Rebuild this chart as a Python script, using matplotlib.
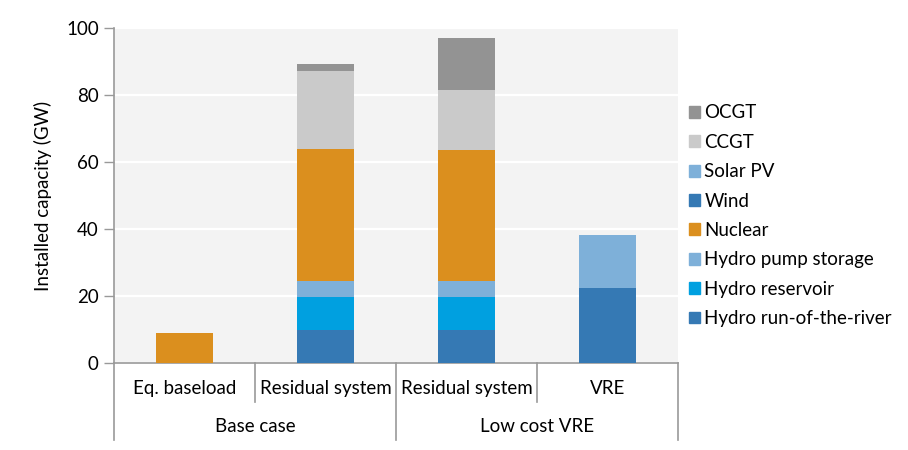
import matplotlib
matplotlib.use("Agg")
import matplotlib.pyplot as plt
from matplotlib.patches import Patch
import numpy as np

plt.rcParams["font.family"] = ["Lato", "DejaVu Sans"]

# capacity by scenario (GW), stacked bottom to top
categories = ["Eq. baseload", "Residual system", "Residual system", "VRE"]
groups = ["Base case", "Low cost VRE"]
techs = ["Hydro run-of-the-river", "Hydro reservoir", "Hydro pump storage",
         "Nuclear", "Wind", "Solar PV", "CCGT", "OCGT"]
values = {
    "Hydro run-of-the-river": [0, 9.9, 9.9, 0],
    "Hydro reservoir":        [0, 9.9, 9.9, 0],
    "Hydro pump storage":     [0, 4.6, 4.6, 0],
    "Nuclear":                [9.0, 39.5, 39.3, 0],
    "Wind":                   [0, 0, 0, 22.5],
    "Solar PV":               [0, 0, 0, 15.7],
    "CCGT":                   [0, 23.2, 17.8, 0],
    "OCGT":                   [0, 2.1, 15.4, 0],
}
colors = {
    "Hydro run-of-the-river": "#3579b4",
    "Hydro reservoir":        "#00a0e0",
    "Hydro pump storage":     "#7eb0d9",
    "Nuclear":                "#db8f1e",
    "Wind":                   "#3579b4",
    "Solar PV":               "#7eb0d9",
    "CCGT":                   "#cacaca",
    "OCGT":                   "#939393",
}

FS = 13.5
W, H = 908, 450
fig = plt.figure(figsize=(W / 100, H / 100), dpi=100)
ax = fig.add_axes([114 / W, 87 / H, 564 / W, 335 / H])
ax.set_facecolor("#f3f3f3")

x = np.arange(len(categories))
bottom = np.zeros(len(categories))
for t in techs:
    v = np.array(values[t])
    ax.bar(x, v, bottom=bottom, width=0.41, color=colors[t], zorder=3)
    bottom += v

ax.set_xlim(-0.5, len(categories) - 0.5)
ax.set_ylim(0, 100)
ax.set_yticks(range(0, 101, 20))
ax.yaxis.grid(True, color="white", linewidth=1.6, zorder=1)
ax.tick_params(axis="y", length=7, width=1, color="#999999", labelsize=FS, pad=4)
ax.set_xticks([])
for s in ["top", "right"]:
    ax.spines[s].set_visible(False)
for s in ["left", "bottom"]:
    ax.spines[s].set_color("#999999")
    ax.spines[s].set_linewidth(1.2)
ax.set_ylabel("Installed capacity (GW)", fontsize=FS, labelpad=10)

# two-level category axis
sep = dict(color="#999999", linewidth=1.2, clip_on=False,
           transform=ax.get_xaxis_transform())
for xs in [0.5, 2.5]:
    ax.plot([xs, xs], [0, -0.116], **sep)
for xs in [-0.5, 1.5, 3.5]:
    ax.plot([xs, xs], [0, -0.23], **sep)
for xi, lab in zip(x, categories):
    ax.text(xi, -0.075, lab, ha="center", va="center", fontsize=FS,
            transform=ax.get_xaxis_transform())
for gi, g in enumerate(groups):
    ax.text(0.5 + 2 * gi, -0.19, g, ha="center", va="center", fontsize=FS,
            transform=ax.get_xaxis_transform())

handles = [Patch(color=colors[t], label=t) for t in techs[::-1]]
fig.legend(handles=handles, loc="upper left", bbox_to_anchor=(681 / W, 1 - 97 / H),
           frameon=False, fontsize=FS, handlelength=0.6, handleheight=0.6,
           handletextpad=0.25, labelspacing=0.66, borderaxespad=0)

fig.savefig("out.png", dpi=100)
